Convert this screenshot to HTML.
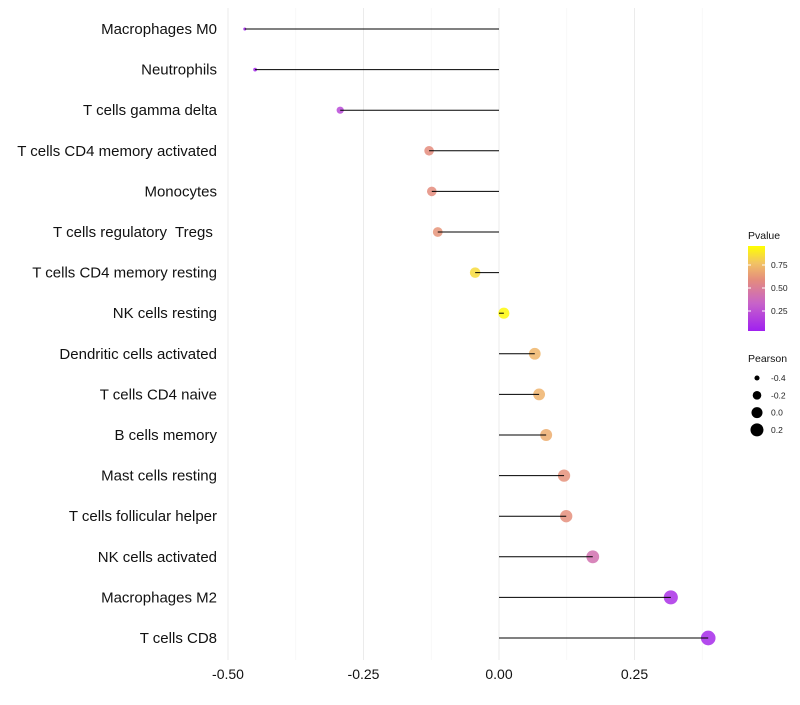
<!DOCTYPE html>
<html><head><meta charset="utf-8"><style>
body{margin:0;background:#fff;font-family:"Liberation Sans",sans-serif}
</style></head><body>
<svg id="chart" width="800" height="700" xmlns="http://www.w3.org/2000/svg"></svg>
<script>
const categories=["Macrophages M0","Neutrophils","T cells gamma delta","T cells CD4 memory activated","Monocytes","T cells regulatory  Tregs ","T cells CD4 memory resting","NK cells resting","Dendritic cells activated","T cells CD4 naive","B cells memory","Mast cells resting","T cells follicular helper","NK cells activated","Macrophages M2","T cells CD8"];
const pearson=[-0.469,-0.450,-0.293,-0.129,-0.124,-0.113,-0.044,0.009,0.066,0.074,0.087,0.120,0.124,0.173,0.317,0.386];
const pvalue=[0.02,0.03,0.2,0.6,0.6,0.63,0.88,0.98,0.75,0.74,0.72,0.62,0.61,0.42,0.08,0.05];
const xTicks=[-0.5,-0.25,0,0.25];
const xTickLabels=["-0.50","-0.25","0.00","0.25"];
const pTicks=[0.25,0.5,0.75];
const sizeTicks=[-0.4,-0.2,0.0,0.2];
const sizeTickLabels=["-0.4","-0.2","0.0","0.2"];

const svg=document.getElementById('chart');
const NS="http://www.w3.org/2000/svg";
function mk(t,a,p){const e=document.createElementNS(NS,t);for(const k in a)e.setAttribute(k,a[k]);(p||svg).appendChild(e);return e;}
const x=v=>499+v*542;
const y=i=>29+i*40.6;
const r=v=>Math.sqrt(Math.max(2,30.5+60*v));
const stops=[[0,[160,32,240]],[0.33,[200,100,200]],[0.6,[228,140,125]],[0.8,[242,195,100]],[1,[255,255,0]]];
const col=p=>{for(let i=1;i<stops.length;i++){if(p<=stops[i][0]){const [p0,c0]=stops[i-1],[p1,c1]=stops[i];const t=(p-p0)/(p1-p0);return `rgb(${c0.map((c,k)=>Math.round(c+(c1[k]-c)*t)).join(',')})`;}}return 'rgb(255,255,0)';};
// grid
const g=mk('g',{});


xTicks.forEach(t=>{mk('line',{x1:x(t),x2:x(t),y1:8,y2:660,stroke:'#ebebeb','stroke-width':1},g);
 mk('line',{x1:x(t+0.125),x2:x(t+0.125),y1:8,y2:660,stroke:'#f4f4f4','stroke-width':0.6},g);});
// x ticks
xTicks.forEach((t,i)=>{const tx=mk('text',{x:x(t),y:679,'text-anchor':'middle','font-size':14,fill:'#111'});tx.textContent=xTickLabels[i];
 
 });
// rows
categories.forEach((c,i)=>{
 const l=mk('text',{x:217,y:y(i)+5,'text-anchor':'end','font-size':15,fill:'#111','xml:space':'preserve',style:'white-space:pre'});l.textContent=c;
 
 
 const d=mk('circle',{cx:x(pearson[i]),cy:y(i),r:r(pearson[i]),fill:col(pvalue[i]),'fill-opacity':0.85});
 
 
 const s=mk('line',{x1:x(0),x2:x(pearson[i]),y1:y(i),y2:y(i),stroke:'#000','stroke-width':1});
 
 
});
// color legend
const lg=mk('g',{});


const defs=mk('defs',{});
const grad=mk('linearGradient',{id:'pg',x1:0,y1:1,x2:0,y2:0},defs);
stops.forEach(s=>mk('stop',{offset:s[0],'stop-color':col(s[0])},grad));
const t1=mk('text',{x:748,y:239,'font-size':10.5,fill:'#111'},lg);t1.textContent='Pvalue';
mk('rect',{x:748,y:246,width:17,height:85,fill:'url(#pg)'},lg);
const py=p=>334-p*92;
pTicks.forEach(p=>{mk('line',{x1:748,x2:751,y1:py(p),y2:py(p),stroke:'#fff'},lg);mk('line',{x1:762,x2:765,y1:py(p),y2:py(p),stroke:'#fff'},lg);
 const t=mk('text',{x:771,y:py(p)+3,'font-size':8.5,fill:'#222'},lg);t.textContent=p.toFixed(2);});
// size legend
const sg=mk('g',{});


const t2=mk('text',{x:748,y:362,'font-size':10.5,fill:'#111'},sg);t2.textContent='Pearson';
sizeTicks.forEach((v,i)=>{const cy=378+i*17.3;mk('circle',{cx:757,cy:cy,r:r(v),fill:'#000'},sg);
 const t=mk('text',{x:771,y:cy+3,'font-size':8.5,fill:'#222'},sg);t.textContent=sizeTickLabels[i];});
</script>
</body></html>
